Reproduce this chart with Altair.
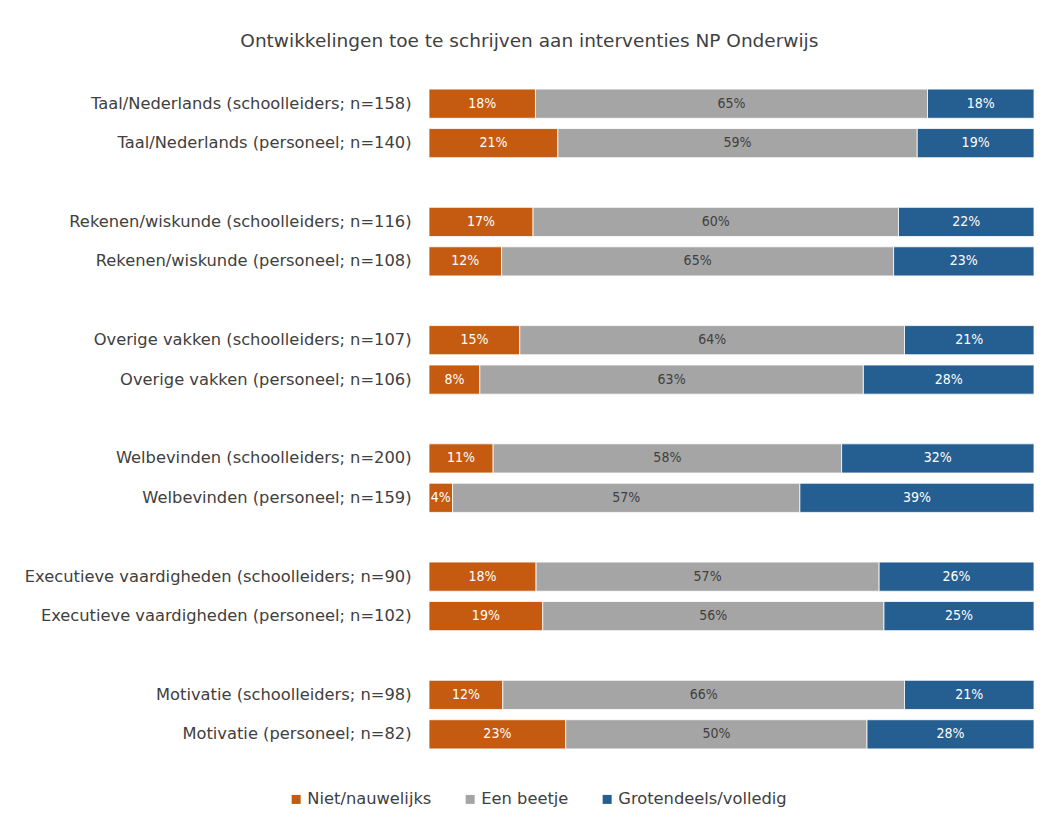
import altair as alt
import pandas as pd

title = "Ontwikkelingen toe te schrijven aan interventies NP Onderwijs"

categories = [
    "Taal/Nederlands (schoolleiders; n=158)",
    "Taal/Nederlands (personeel; n=140)",
    "Rekenen/wiskunde (schoolleiders; n=116)",
    "Rekenen/wiskunde (personeel; n=108)",
    "Overige vakken (schoolleiders; n=107)",
    "Overige vakken (personeel; n=106)",
    "Welbevinden (schoolleiders; n=200)",
    "Welbevinden (personeel; n=159)",
    "Executieve vaardigheden (schoolleiders; n=90)",
    "Executieve vaardigheden (personeel; n=102)",
    "Motivatie (schoolleiders; n=98)",
    "Motivatie (personeel; n=82)",
]
niet = [17.6, 21.3, 17.2, 12.0, 15.0, 8.4, 10.6, 3.9, 17.7, 18.8, 12.2, 22.6]
beetje = [64.8, 59.4, 60.4, 64.8, 63.6, 63.4, 57.6, 57.4, 56.7, 56.4, 66.4, 49.8]
groot = [17.6, 19.3, 22.4, 23.2, 21.4, 28.2, 31.8, 38.7, 25.6, 24.8, 21.4, 27.6]

series = ["Niet/nauwelijks", "Een beetje", "Grotendeels/volledig"]
colors = ["#C55A11", "#A5A5A5", "#255E91"]

rows = []
for i, cat in enumerate(categories):
    start = 0.0
    for k, (s, vals) in enumerate(zip(series, [niet, beetje, groot])):
        v = vals[i]
        rows.append(dict(cat=cat, series=s, order=k, start=start, end=start + v,
                         mid=start + v / 2, label=f"{round(v)}%"))
        start += v
df = pd.DataFrame(rows)

# domain with blank spacer rows between groups
domain = []
for g in range(6):
    if g > 0:
        domain.append(" " * g)
    domain += categories[2 * g:2 * g + 2]

FONT = "DejaVu Sans"
ycat = alt.Y(
    "cat:N",
    scale=alt.Scale(domain=domain, paddingInner=0.26, paddingOuter=0.13),
    axis=alt.Axis(title=None, domain=False, ticks=False, labelFontSize=16.3,
                  labelColor="#404040", labelFont=FONT, labelPadding=18,
                  labelLimit=600),
)

bars = alt.Chart(df).mark_bar(stroke="white", strokeWidth=0.8).encode(
    y=ycat,
    x=alt.X("start:Q", scale=alt.Scale(domain=[0, 100], nice=False), axis=None),
    x2="end:Q",
    color=alt.Color(
        "series:N",
        scale=alt.Scale(domain=series, range=colors),
        legend=alt.Legend(
            title=None, orient="none", legendX=-141, legendY=707,
            direction="horizontal", symbolType="square", symbolSize=81,
            symbolStrokeWidth=0, labelFontSize=16.3, labelFont=FONT,
            labelColor="#404040", columnPadding=30, labelOffset=3,
            labelLimit=400,
        ),
    ),
    order=alt.Order("order:Q"),
)

text = alt.Chart(df).mark_text(font="DejaVu Sans Condensed", fontSize=14).encode(
    y=alt.Y("cat:N", scale=alt.Scale(domain=domain)),
    x=alt.X("mid:Q"),
    text="label:N",
    color=alt.condition(alt.datum.series == "Een beetje",
                        alt.value("#404040"), alt.value("white")),
)

chart = alt.layer(bars, text).properties(
    width=605, height=670,
    title=alt.TitleParams(title, fontSize=18.5, color="#404040", font=FONT,
                          fontWeight="normal", anchor="middle", frame="bounds",
                          offset=34),
    padding={"left": 16, "top": 23, "right": 8, "bottom": 8},
).configure_view(stroke=None)

chart.save("out.html", embed_options={"renderer": "svg", "actions": False})
